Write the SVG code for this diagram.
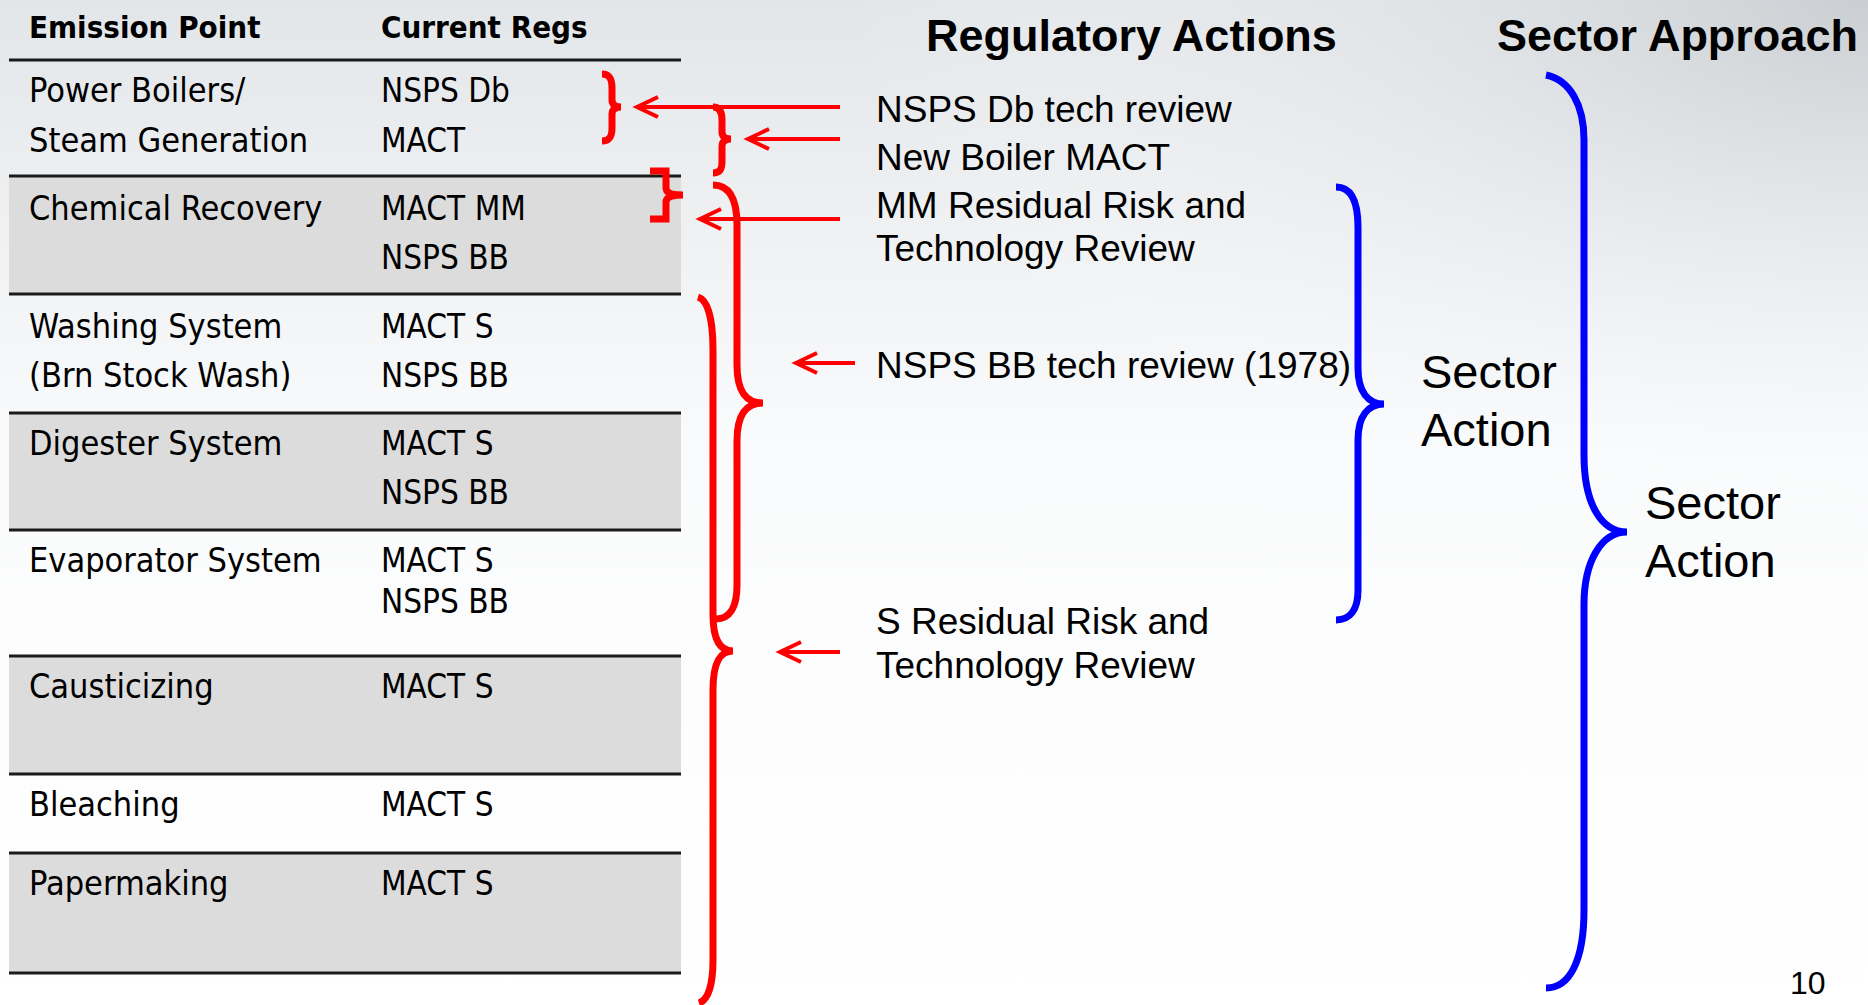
<svg xmlns="http://www.w3.org/2000/svg" width="1868" height="1005" viewBox="0 0 1868 1005">
<defs>
<linearGradient id="bgv" x1="0" y1="0" x2="0" y2="1">
<stop offset="0" stop-color="#e3e6e9"/>
<stop offset="0.45" stop-color="#fafbfc"/>
<stop offset="1" stop-color="#ffffff"/>
</linearGradient>
<radialGradient id="bgr" cx="1.0" cy="0.0" r="0.55" gradientUnits="objectBoundingBox">
<stop offset="0" stop-color="#c4c8cc" stop-opacity="0.8"/>
<stop offset="1" stop-color="#ffffff" stop-opacity="0"/>
</radialGradient>
<marker id="ah" markerUnits="userSpaceOnUse" viewBox="-26 -14 30 28" refX="0" refY="0" markerWidth="30" markerHeight="28" orient="auto" overflow="visible">
<path d="M-21,-10 L0,0 L-21,10" fill="none" stroke="#ff0000" stroke-width="4"/>
</marker>
<style>
.hdr{font-family:"DejaVu Sans Condensed","DejaVu Sans",sans-serif;font-weight:bold;font-size:31px;fill:#000}
.cell{font-family:"DejaVu Sans Condensed","DejaVu Sans",sans-serif;font-size:33px;fill:#000}
.lc{font-size:34px}
.title{font-family:"Liberation Sans",Arial,sans-serif;font-weight:bold;font-size:45px;fill:#000}
.reg{font-family:"Liberation Sans",Arial,sans-serif;font-size:37px;fill:#000}
.sec{font-family:"Liberation Sans",Arial,sans-serif;font-size:47px;fill:#000}
.pg{font-family:"Liberation Sans",Arial,sans-serif;font-size:32px;fill:#000}
.rule{stroke:#1a1a1a;stroke-width:3}
.band{fill:#dcdcdc}
.rb{fill:none;stroke:#ff0000;stroke-width:7}
.bb{fill:none;stroke:#0000ff;stroke-width:7}
.arr{fill:none;stroke:#ff0000;stroke-width:4;marker-end:url(#ah)}
</style>
</defs>
<rect width="1868" height="1005" fill="url(#bgv)"/>
<rect width="1868" height="1005" fill="url(#bgr)"/>

<g id="table">
<rect class="band" x="9" y="176" width="672" height="118"/>
<rect class="band" x="9" y="413" width="672" height="117"/>
<rect class="band" x="9" y="656" width="672" height="118"/>
<rect class="band" x="9" y="853" width="672" height="120"/>
<line class="rule" x1="9" y1="60" x2="681" y2="60"/>
<line class="rule" x1="9" y1="176" x2="681" y2="176"/>
<line class="rule" x1="9" y1="294" x2="681" y2="294"/>
<line class="rule" x1="9" y1="413" x2="681" y2="413"/>
<line class="rule" x1="9" y1="530" x2="681" y2="530"/>
<line class="rule" x1="9" y1="656" x2="681" y2="656"/>
<line class="rule" x1="9" y1="774" x2="681" y2="774"/>
<line class="rule" x1="9" y1="853" x2="681" y2="853"/>
<line class="rule" x1="9" y1="973" x2="681" y2="973"/>
<text class="hdr" x="29" y="38">Emission Point</text>
<text class="hdr" x="381" y="38">Current Regs</text>
<text class="cell lc" x="29" y="102">Power Boilers/</text>
<text class="cell lc" x="29" y="152">Steam Generation</text>
<text class="cell" x="381" y="102">NSPS Db</text>
<text class="cell" x="381" y="152">MACT</text>
<text class="cell lc" x="29" y="220">Chemical Recovery</text>
<text class="cell" x="381" y="220">MACT MM</text>
<text class="cell" x="381" y="269">NSPS BB</text>
<text class="cell lc" x="29" y="338">Washing System</text>
<text class="cell lc" x="29" y="387">(Brn Stock Wash)</text>
<text class="cell" x="381" y="338">MACT S</text>
<text class="cell" x="381" y="387">NSPS BB</text>
<text class="cell lc" x="29" y="455">Digester System</text>
<text class="cell" x="381" y="455">MACT S</text>
<text class="cell" x="381" y="504">NSPS BB</text>
<text class="cell lc" x="29" y="572">Evaporator System</text>
<text class="cell" x="381" y="572">MACT S</text>
<text class="cell" x="381" y="613">NSPS BB</text>
<text class="cell lc" x="29" y="698">Causticizing</text>
<text class="cell" x="381" y="698">MACT S</text>
<text class="cell lc" x="29" y="816">Bleaching</text>
<text class="cell" x="381" y="816">MACT S</text>
<text class="cell lc" x="29" y="895">Papermaking</text>
<text class="cell" x="381" y="895">MACT S</text>
</g>

<g id="titles">
<text class="title" x="926" y="51">Regulatory Actions</text>
<text class="title" x="1497" y="51">Sector Approach</text>
</g>

<g id="reg-nsps-db"><text class="reg" x="876" y="122">NSPS Db tech review</text></g>
<g id="reg-boiler-mact"><text class="reg" x="876" y="170">New Boiler MACT</text></g>
<g id="reg-mm"><text class="reg" x="876" y="218">MM Residual Risk and</text><text class="reg" x="876" y="261">Technology Review</text></g>
<g id="reg-nsps-bb"><text class="reg" x="876" y="378">NSPS BB tech review (1978)</text></g>
<g id="reg-s"><text class="reg" x="876" y="634">S Residual Risk and</text><text class="reg" x="876" y="678">Technology Review</text></g>
<g id="sector-action-1"><text class="sec" x="1421" y="388">Sector</text><text class="sec" x="1421" y="446">Action</text></g>
<g id="sector-action-2"><text class="sec" x="1645" y="519">Sector</text><text class="sec" x="1645" y="577">Action</text></g>
<g id="page"><text class="pg" x="1790" y="994">10</text></g>

<g id="connectors">
<path id="braceA" class="rb" d="M602,74 C610,74 612,80 612,88 L612,100 C612,105 616,107 621,107 C616,107 612,109 612,114 L612,128 C612,136 610,141 602,141"/>
<path id="braceB" class="rb" d="M713,107 C720,107 722,113 722,120 L722,132 C722,137 726,139 731,139 C726,139 722,141 722,146 L722,162 C722,169 720,173 713,173"/>
<path id="braceC" class="rb" stroke-width="8" d="M650,171 L666,171 L666,188 Q666,195 683,195 Q666,195 666,202 L666,219 L650,219"/>
<path id="braceD" class="rb" d="M713,185 C730,185 737,200 737,225 L737,365 C737,390 745,403 763,403 C745,403 737,416 737,441 L737,585 C737,607 730,619 716,619"/>
<path id="braceE" class="rb" d="M698,297 C708,300 713,320 713,350 L713,615 C713,640 720,651 733,651 C720,651 713,662 713,690 L713,960 C713,985 708,1000 699,1003"/>
<path id="braceF" class="bb" d="M1336,187 C1350,187 1358,200 1358,227 L1358,368 C1358,392 1368,404 1384,404 C1368,404 1358,416 1358,440 L1358,590 C1358,610 1350,620 1336,620"/>
<path id="braceG" class="bb" d="M1546,75 C1570,80 1584,105 1584,140 L1584,455 C1584,505 1602,532 1627,532 C1602,532 1584,560 1584,605 L1584,910 C1584,960 1570,988 1546,988"/>
<path class="arr" d="M840,107 L637,107"/>
<path class="arr" d="M840,139 L748,139"/>
<path class="arr" d="M840,219 L700,219"/>
<path class="arr" d="M855,363 L796,363"/>
<path class="arr" d="M840,652 L780,652"/>
</g>
</svg>
